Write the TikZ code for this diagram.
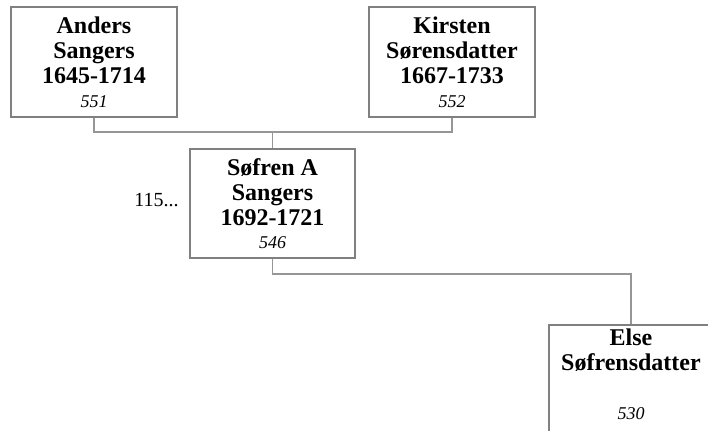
\documentclass[tikz,border=0pt]{standalone}
\usepackage{fontspec}
\setmainfont{Liberation Serif}
\definecolor{boxgray}{RGB}{128,128,128}
\definecolor{linegray}{RGB}{150,150,150}
\newcommand{\idn}[1]{{\fontsize{13.5}{15}\mdseries\itshape #1}}
\begin{document}
\begin{tikzpicture}[x=0.75pt,y=-0.75pt,
  box/.style={draw=boxgray, line width=1.1pt, fill=white, inner sep=0pt,
    minimum width=124.5pt, minimum height=82.5pt, align=center,
    font=\fontsize{18}{18.75}\selectfont\bfseries},
  conn/.style={draw=linegray, line width=0.8pt},
  txt/.style={inner sep=0pt, align=center, font=\fontsize{18}{18.75}\selectfont\bfseries}]
\useasboundingbox (0,0) rectangle (708,431);
\clip (0,0) rectangle (708,431);
\coordinate (j) at (272.5,132);
\coordinate (k) at (272.5,274);
\node[box] (A) at (94,62) {Anders\\Sangers\\1645-1714\\[-1pt]\idn{551}};
\node[box] (K) at (452,62) {Kirsten\\Sørensdatter\\1667-1733\\[-1pt]\idn{552}};
\node[box, minimum width=123.75pt, minimum height=81.75pt] (S) at (272.5,203.5) {Søfren A\\Sangers\\1692-1721\\[-1pt]\idn{546}};
\node[box, minimum width=123pt, minimum height=90pt] (E) at (631,385) {};
\node[txt, anchor=north] (et) at (631,329) {Else\\Søfrensdatter\\\strut\\[-1pt]\idn{530}};
\node[inner sep=0pt, anchor=base east, font=\fontsize{15}{17}\selectfont] (num) at (179,207) {115...};
\draw[conn] (A.south) -- (A.south |- j) -- (K.south |- j) -- (K.south);
\draw[conn] (j) -- (S.north);
\draw[conn] (S.south) -- (k) -| (E.north);
\end{tikzpicture}
\end{document}
